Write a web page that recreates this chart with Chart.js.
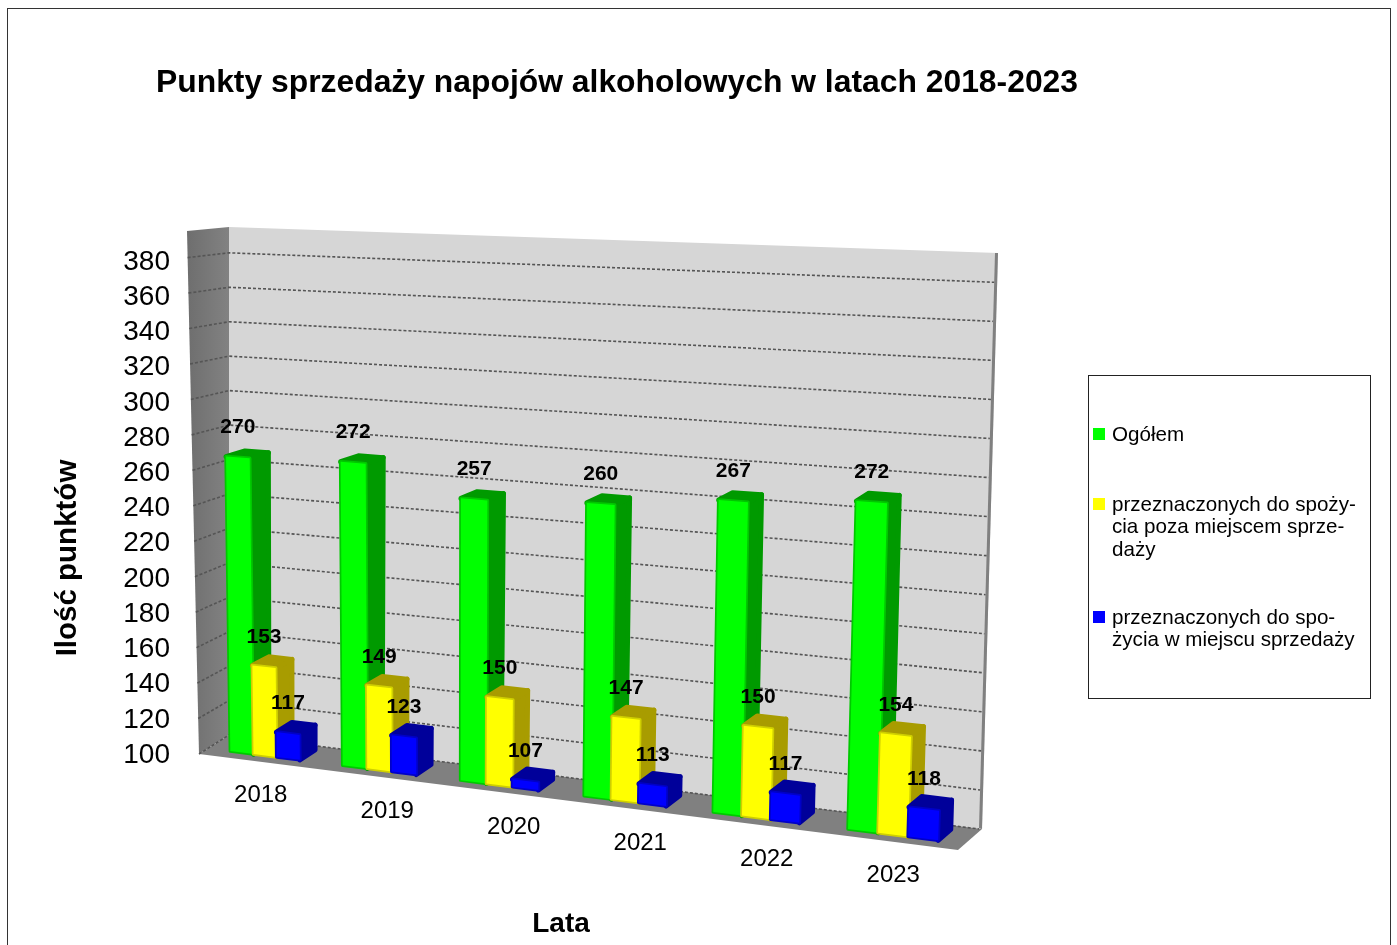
<!DOCTYPE html>
<html><head><meta http-equiv="Content-Type" content="text/html; charset=UTF-8">
	<title>Punkty sprzedaży</title>
  <script src="https://cdn.jsdelivr.net/npm/chart.js@4/dist/chart.umd.js"></script>
	<style>
	body { margin: 0; background: #fff; }
	canvas { display: block; }
	</style>
</head>
<body>
  <canvas id="chart3d" width="1397" height="945"></canvas>
  <script>
    const categories = ['2018', '2019', '2020', '2021', '2022', '2023'];
    const ogolem = [270, 272, 257, 260, 267, 272];
    const pozaMiejscem = [153, 149, 150, 147, 150, 154];
    const wMiejscu = [117, 123, 107, 113, 117, 118];
    const seriesNames = ['Ogółem', 'przeznaczonych do spożycia poza miejscem sprzedaży', 'przeznaczonych do spożycia w miejscu sprzedaży'];
    const legendLines = [['Ogółem'], ['przeznaczonych do spoży-', 'cia poza miejscem sprze-', 'daży'], ['przeznaczonych do spo-', 'życia w miejscu sprzedaży']];
    const titleText = 'Punkty sprzedaży napojów alkoholowych w latach 2018-2023';
    const yTitle = 'Ilość punktów';
    const xTitle = 'Lata';
    const yMin = 100, yMax = 380, yStep = 20, wallTop = 395;

    const FONT = '"Liberation Sans", Arial, sans-serif';
    const colors = [
      {front: '#00ff00', edge: '#00c800', side: '#009a00'},
      {front: '#ffff00', edge: '#cfcf00', side: '#a89c00'},
      {front: '#0000ff', edge: '#0000c8', side: '#00009a'}
    ];

    // corners of the 3d box on screen: front-bottom, back-bottom, back-top, front-top
    const box = {
      fbl: [199, 754], fbr: [958, 850],
      bbl: [229, 735], bbr: [982, 829],
      btl: [229, 227], btr: [998, 253],
      ftl: [187, 231], ftr: [978, 265]
    };
    const lerp = (a, b, t) => a + (b - a) * t;
    const lerp2 = (p, q, t) => [lerp(p[0], q[0], t), lerp(p[1], q[1], t)];

    // u: 0-1 along the categories, w: 0-1 along the value axis, d: 0 front, 1 back
    function project(u, w, d) {
      const front = lerp2(lerp2(box.fbl, box.fbr, u), lerp2(box.ftl, box.ftr, u), w);
      const back = lerp2(lerp2(box.bbl, box.bbr, u), lerp2(box.btl, box.btr, u), w);
      return lerp2(front, back, d);
    }
    const toW = (v) => (v - yMin) / (wallTop - yMin);

    function poly(ctx, pts) {
      ctx.beginPath();
      pts.forEach((p, i) => i ? ctx.lineTo(p[0], p[1]) : ctx.moveTo(p[0], p[1]));
      ctx.closePath();
    }

    const D0 = 0.3, D1 = 0.82, BAR_DROP = 3;

    const box3d = {
      id: 'box3d',
      beforeDatasetsDraw(chart) {
        const ctx = chart.ctx, y = chart.scales.y;
        ctx.save();
        // back wall
        ctx.fillStyle = '#d6d6d6';
        poly(ctx, [box.bbl, box.btl, box.btr, box.bbr]);
        ctx.fill();
        // thin right side of the wall
        ctx.fillStyle = '#808080';
        poly(ctx, [[box.bbr[0] - 3, box.bbr[1] - 1], [box.btr[0] - 3, box.btr[1]], box.btr, box.bbr]);
        ctx.fill();
        // left wall
        const g = ctx.createLinearGradient(187, 0, 229, 0);
        g.addColorStop(0, '#6e6e6e');
        g.addColorStop(1, '#828282');
        ctx.fillStyle = g;
        poly(ctx, [box.fbl, box.ftl, box.btl, box.bbl]);
        ctx.fill();
        // floor
        ctx.fillStyle = '#808080';
        poly(ctx, [box.fbl, box.bbl, box.bbr, box.fbr]);
        ctx.fill();
        // grid lines come from the ticks of the y scale
        ctx.strokeStyle = '#555';
        ctx.lineWidth = 1.6;
        ctx.setLineDash([3, 2]);
        y.ticks.forEach((t) => {
          const w = toW(t.value);
          const a = project(0, w, 0), b = project(0, w, 1), c = project(1, w, 1);
          ctx.beginPath();
          ctx.moveTo(a[0], a[1]);
          ctx.lineTo(b[0], b[1]);
          ctx.lineTo(c[0] - 3, c[1]);
          ctx.stroke();
        });
        ctx.restore();
      },
      beforeDatasetDraw() {
        return false; // flat bars are replaced by the 3d ones below
      },
      afterDatasetsDraw(chart) {
        const ctx = chart.ctx, x = chart.scales.x, y = chart.scales.y, area = chart.chartArea;
        const labels = [];
        ctx.save();
        ctx.lineJoin = 'round';
        categories.forEach((cat, i) => {
          const cx = x.getPixelForValue(i);
          const uc = (cx - area.left) / area.width;
          const grow = 1 + 0.3 * (uc - 0.08) / 0.84; // nearer bars look wider
          // clusters are not evenly spaced in the perspective
          const t = (uc - 1 / 12) / (10 / 12);
          const shift = -70 * t * (1 - t) - 3 * t - 6;
          chart.data.datasets.forEach((ds, s) => {
            const el = chart.getDatasetMeta(s).data[i];
            const half = el.width / 2;
            const ul = (cx + shift + (el.x - half - cx) * grow - area.left) / area.width;
            const ur = (cx + shift + (el.x + half - cx) * grow - area.left) / area.width;
            const wt = toW(y.getValueForPixel(el.y) - BAR_DROP);
            const c = colors[s];
            const fbl = project(ul, 0, D0), fbr = project(ur, 0, D0);
            const ftl = project(ul, wt, D0), ftr = project(ur, wt, D0);
            const bbr = project(ur, 0, D1), btr = project(ur, wt, D1), btl = project(ul, wt, D1);
            // side and top
            ctx.fillStyle = c.side;
            ctx.strokeStyle = c.side;
            ctx.lineWidth = 5;
            poly(ctx, [fbr, ftr, btr, bbr]);
            ctx.fill();
            ctx.stroke();
            poly(ctx, [ftl, btl, btr, ftr]);
            ctx.fill();
            ctx.stroke();
            // front
            ctx.fillStyle = c.front;
            ctx.strokeStyle = c.edge;
            ctx.lineWidth = 3.5;
            poly(ctx, [fbl, ftl, ftr, fbr]);
            ctx.stroke();
            ctx.fill();
            labels.push({text: String(ds.data[i]), x: (ftl[0] + ftr[0]) / 2, y: (ftl[1] + ftr[1]) / 2 - 30});
          });
        });
        ctx.fillStyle = '#000';
        ctx.font = 'bold 21px ' + FONT;
        ctx.textAlign = 'center';
        ctx.textBaseline = 'middle';
        labels.forEach((l) => ctx.fillText(l.text, l.x, l.y));
        ctx.restore();
      },
      afterDraw(chart) {
        const ctx = chart.ctx, x = chart.scales.x, area = chart.chartArea;
        ctx.save();
        ctx.fillStyle = '#000';
        // chart frame, runs off the bottom of the page
        ctx.strokeStyle = '#333';
        ctx.lineWidth = 1;
        ctx.strokeRect(7.5, 8.5, 1383, 960);
        // title
        ctx.textBaseline = 'middle';
        ctx.textAlign = 'left';
        ctx.font = 'bold 31.85px ' + FONT;
        ctx.fillText(titleText, 156, 83);
        // axis titles
        ctx.textAlign = 'center';
        ctx.font = 'bold 28px ' + FONT;
        ctx.fillText(xTitle, 561, 924);
        ctx.save();
        ctx.translate(68, 558);
        ctx.rotate(-Math.PI / 2);
        ctx.font = 'bold 29.5px ' + FONT;
        ctx.fillText(yTitle, 0, 0);
        ctx.restore();
        // year labels follow the front edge of the floor
        ctx.font = '24px ' + FONT;
        categories.forEach((cat, i) => {
          const u = (x.getPixelForValue(i) - area.left) / area.width;
          const p = project(u, 0, 0);
          ctx.fillText(cat, p[0] - 1.5, p[1] + 33);
        });
        // legend
        ctx.strokeStyle = '#222';
        ctx.strokeRect(1088.5, 375.5, 282, 323);
        const rowY = [435, 505, 618];
        ctx.textAlign = 'left';
        ctx.font = '20.6px ' + FONT;
        legendLines.forEach((lines, s) => {
          ctx.fillStyle = colors[s].front;
          ctx.fillRect(1093, rowY[s] - 7, 12, 12);
          ctx.fillStyle = '#000';
          lines.forEach((t, k) => ctx.fillText(t, 1112, rowY[s] + k * 22.5));
        });
        ctx.restore();
      }
    };

    new Chart(document.getElementById('chart3d'), {
      type: 'bar',
      data: {
        labels: categories,
        datasets: [
          {label: seriesNames[0], data: ogolem, backgroundColor: colors[0].front},
          {label: seriesNames[1], data: pozaMiejscem, backgroundColor: colors[1].front},
          {label: seriesNames[2], data: wMiejscu, backgroundColor: colors[2].front}
        ]
      },
      options: {
        responsive: false,
        animation: false,
        devicePixelRatio: 1,
        categoryPercentage: 0.55,
        barPercentage: 1,
        layout: {padding: {left: 0, right: 442, top: 262, bottom: 190}},
        plugins: {legend: {display: false}, tooltip: {enabled: false}},
        scales: {
          x: {
            afterFit(scale) { scale.height = 0; },
            grid: {display: false}, border: {display: false}, ticks: {display: false}
          },
          y: {
            min: yMin, max: yMax,
            afterFit(scale) { scale.width = 198; },
            grid: {display: false, drawTicks: false},
            border: {display: false},
            ticks: {stepSize: yStep, autoSkip: false, padding: 28, color: '#000', font: {family: FONT, size: 28}}
          }
        }
      },
      plugins: [box3d]
    });
  </script>
</body></html>
